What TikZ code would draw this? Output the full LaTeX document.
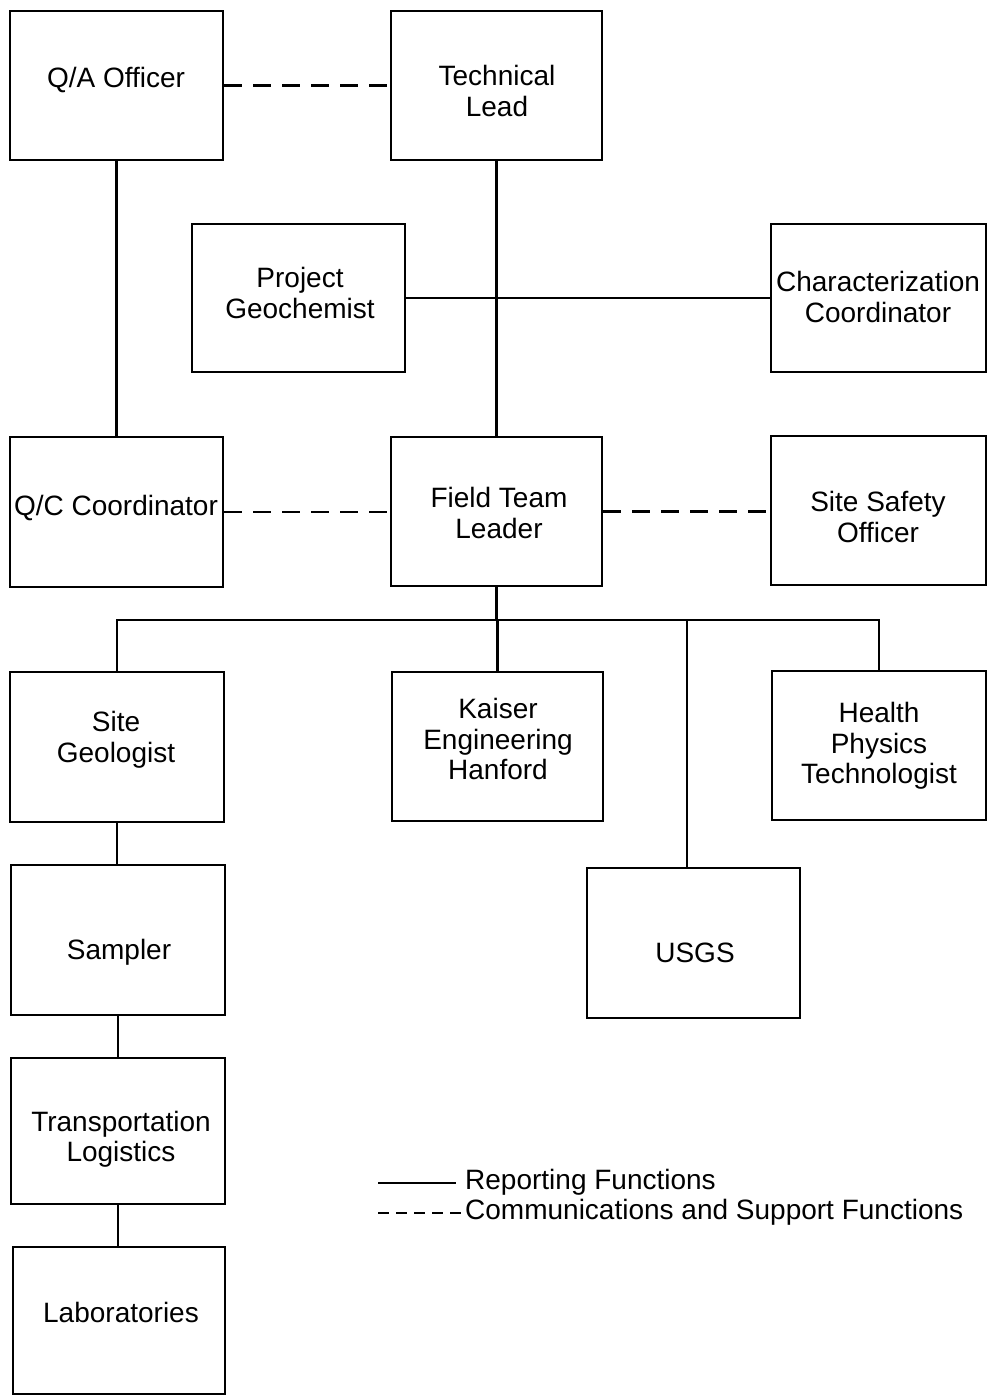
\documentclass[tikz,border=0pt]{standalone}
\usepackage{fontspec}
\setmainfont{Liberation Sans}
\begin{document}
\begin{tikzpicture}[x=1pt,y=-1pt,
  box/.style={draw, line width=2.8pt, inner sep=0pt},
  lbl/.style={align=center, font=\fontsize{28}{30.5}\selectfont, inner sep=0pt},
  leg/.style={anchor=west, font=\fontsize{28}{30}\selectfont, inner sep=0pt},
  rep/.style={line width=2.3pt},
  com/.style={line width=2.3pt, dash pattern=on 18pt off 11pt}]
\useasboundingbox (0,0) rectangle (989,1396);
\fill[white] (0,0) rectangle (989,1396);
% boxes
\node[box, minimum width=213pt, minimum height=149pt] (qa)   at (116.5,85.5) {};
\node[box, minimum width=211pt, minimum height=149pt] (tl)   at (496.5,85.5) {};
\node[box, minimum width=213pt, minimum height=148pt] (pg)   at (298.5,298) {};
\node[box, minimum width=215pt, minimum height=148pt] (cc)   at (878.5,298) {};
\node[box, minimum width=213pt, minimum height=150pt] (qc)   at (116.5,512) {};
\node[box, minimum width=211pt, minimum height=149pt] (ftl)  at (496.5,511.5) {};
\node[box, minimum width=215pt, minimum height=149pt] (sso)  at (878.5,510.5) {};
\node[box, minimum width=214pt, minimum height=150pt] (sg)   at (117,747) {};
\node[box, minimum width=211pt, minimum height=149pt] (keh)  at (497.5,746.5) {};
\node[box, minimum width=214pt, minimum height=149pt] (hpt)  at (879,745.5) {};
\node[box, minimum width=213pt, minimum height=150pt] (usgs) at (693.5,943) {};
\node[box, minimum width=214pt, minimum height=150pt] (smp)  at (118,940) {};
\node[box, minimum width=214pt, minimum height=146pt] (tlog) at (118,1131) {};
\node[box, minimum width=212pt, minimum height=147pt] (lab)  at (119,1320.5) {};
% labels
\node[lbl] (qa-t)   at (116,80) {Q/A Officer};
\node[lbl] (tl-t)   at (497,91) {Technical\\Lead};
\node[lbl] (pg-t)   at (300,293) {Project\\Geochemist};
\node[lbl] (cc-t)   at (878,297) {Characterization\\Coordinator};
\node[lbl] (qc-t)   at (116,508) {Q/C Coordinator};
\node[lbl] (ftl-t)  at (499,513) {Field Team\\Leader};
\node[lbl] (sso-t)  at (878,517) {Site Safety\\Officer};
\node[lbl] (sg-t)   at (116,740) {Site\\Geologist};
\node[lbl] (keh-t)  at (498,739) {Kaiser\\Engineering\\Hanford};
\node[lbl] (hpt-t)  at (879,746) {Health\\Physics\\Technologist};
\node[lbl] (usgs-t) at (695,953) {USGS};
\node[lbl] (smp-t)  at (119,952) {Sampler};
\node[lbl] (tlog-t) at (121,1139) {Transportation\\Logistics};
\node[lbl] (lab-t)  at (121,1312) {Laboratories};
% connectors
\draw[com] (qa.east) -- (tl.west);
\draw[rep] (qa.south) -- (qc.north);
\draw[rep] (tl.south) -- (ftl.north);
\draw[rep] (pg.east) -- (cc.west);
\draw[com] (qc.east) -- (qc.east -| ftl.west);
\draw[com] (ftl.east) -- (ftl.east -| sso.west);
\coordinate (bus) at (497,620);
\coordinate (ud) at (687,620);
\draw[rep] (ftl.south) -- (ftl.south |- bus);
\draw[rep] (sg.north) -- (sg.north |- bus) -- (hpt.north |- bus) -- (hpt.north);
\draw[rep] (keh.north) -- (keh.north |- bus);
\draw[rep] (ud) -- (ud |- usgs.north);
\draw[rep] (sg.south) -- (sg.south |- smp.north);
\draw[rep] (smp.south) -- (smp.south |- tlog.north);
\draw[rep] (tlog.south) -- (tlog.south |- lab.north);
% legend
\node[leg] (lg1) at (465,1182) {Reporting Functions};
\node[leg] (lg2) at (465,1212) {Communications and Support Functions};
\coordinate (lg1s) at (378,1183);
\coordinate (lg2s) at (378,1213);
\draw[rep] (lg1s) -- ([xshift=-9pt]lg1.west |- lg1s);
\draw[line width=2.3pt, dash pattern=on 11pt off 7pt] (lg2s) -- (lg2.west |- lg2s);
\end{tikzpicture}
\end{document}
